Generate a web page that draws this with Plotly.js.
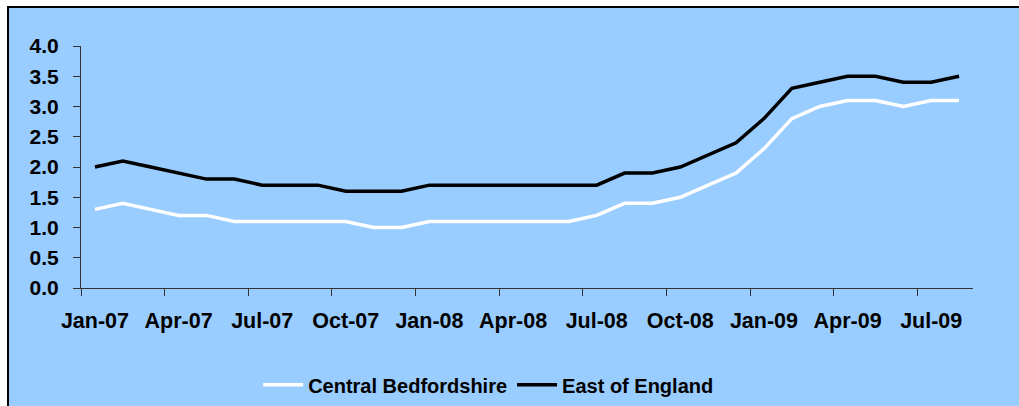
<!DOCTYPE html>
<html>
<head>
<meta charset="utf-8">
<script src="https://cdn.plot.ly/plotly-3.0.1.min.js"></script>
<style>
  html, body { margin: 0; padding: 0; background: #ffffff; }
  #frame { position: absolute; left: 7px; top: 6px; width: 1030px; height: 420px;
           background: #99CCFF; border: 2px solid #000; box-sizing: border-box; }
  #chart { position: absolute; left: 0; top: 0; width: 1019px; height: 406px; }
</style>
</head>
<body>
<div id="frame"></div>
<div id="chart"></div>
<script>
const months = ["Jan-07","Feb-07","Mar-07","Apr-07","May-07","Jun-07","Jul-07","Aug-07","Sep-07","Oct-07","Nov-07","Dec-07",
                "Jan-08","Feb-08","Mar-08","Apr-08","May-08","Jun-08","Jul-08","Aug-08","Sep-08","Oct-08","Nov-08","Dec-08",
                "Jan-09","Feb-09","Mar-09","Apr-09","May-09","Jun-09","Jul-09","Aug-09"];
const centralBedfordshire = [1.3,1.4,1.3,1.2,1.2,1.1,1.1,1.1,1.1,1.1,1.0,1.0,
                             1.1,1.1,1.1,1.1,1.1,1.1,1.2,1.4,1.4,1.5,1.7,1.9,
                             2.3,2.8,3.0,3.1,3.1,3.0,3.1,3.1];
const eastOfEngland = [2.0,2.1,2.0,1.9,1.8,1.8,1.7,1.7,1.7,1.6,1.6,1.6,
                       1.7,1.7,1.7,1.7,1.7,1.7,1.7,1.9,1.9,2.0,2.2,2.4,
                       2.8,3.3,3.4,3.5,3.5,3.4,3.4,3.5];
const yTicks = [0,0.5,1,1.5,2,2.5,3,3.5,4];

const fam = "Liberation Sans, Arial, sans-serif";

const traces = [
  {x: months, y: centralBedfordshire, type: "scatter", mode: "lines", name: "Central Bedfordshire",
   line: {color: "#FFFFFF", width: 3.5}},
  {x: months, y: eastOfEngland, type: "scatter", mode: "lines", name: "East of England",
   line: {color: "#000000", width: 3.5}}
];

const layout = {
  width: 1019, height: 406,
  margin: {l: 81, r: 46, t: 46, b: 118, pad: 0, autoexpand: false},
  paper_bgcolor: "rgba(0,0,0,0)",
  plot_bgcolor: "rgba(0,0,0,0)",
  font: {family: fam, size: 20, color: "#000"},
  showlegend: true,
  legend: {orientation: "h", x: 0.457, xanchor: "center", y: -0.40, yanchor: "middle",
           font: {family: fam, size: 20, color: "#000", weight: "bold"},
           bgcolor: "rgba(0,0,0,0)", itemwidth: 40, tracegroupgap: 0},
  xaxis: {type: "category", tickmode: "linear", tick0: 0, dtick: 3, tickson: "boundaries",
          range: [-0.5, months.length - 0.5], automargin: false,
          showgrid: false, zeroline: false, showline: true, linecolor: "#333", linewidth: 1,
          ticks: "outside", ticklen: 7, tickcolor: "#333", ticklabelstandoff: 13,
          tickfont: {family: fam, size: 21.5, color: "#000", weight: "bold"}, tickangle: 0},
  yaxis: {range: [0, 4], tickmode: "array", tickvals: yTicks, tickformat: ".1f", automargin: false,
          showgrid: false, zeroline: false, showline: true, linecolor: "#333", linewidth: 1,
          ticks: "outside", ticklen: 7, tickcolor: "#333", ticklabelstandoff: 10,
          tickfont: {family: fam, size: 21, color: "#000", weight: "bold"}}
};

Plotly.newPlot("chart", traces, layout, {displayModeBar: false, staticPlot: true});
</script>
</body>
</html>
